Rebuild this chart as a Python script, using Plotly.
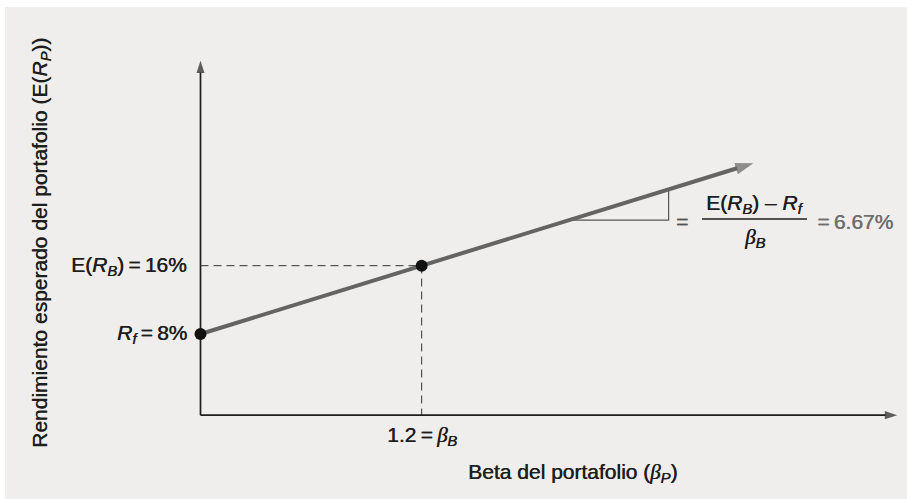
import plotly.graph_objects as go

# ---- Security market line inputs -------------------------------------------
RF = 8.0                 # risk-free rate (%)
BETA_B = 1.2             # beta of portfolio B
RET_B = 16.0             # expected return of portfolio B (%)
BETA_END = 3.0           # beta where the drawn line ends (arrow tip)
TRIANGLE_BETAS = [2.0, 2.54]   # legs of the slope triangle
SLOPE_TEXT = "6.67%"

# schematic axes extent
AXIS_BETA_MAX = 3.78
AXIS_RET_MIN = -1.5
AXIS_RET_MAX = 40.0

slope = (RET_B - RF) / BETA_B


def sml(b):
    return RF + slope * b


# ---- page geometry ---------------------------------------------------------
W, H = 907, 499
M_L, M_T = 5, 7                    # white strip around the grey panel
X0_PX, X_SCALE = 200.5, 184.3      # pixel of beta=0, pixels per unit beta
Y8_PX, Y_SCALE = 334.0, 8.54       # pixel of 8 %, pixels per percentage point

x_range = [(M_L - X0_PX) / X_SCALE, (W - X0_PX) / X_SCALE]
y_range = [RF - (H - Y8_PX) / Y_SCALE, RF + (Y8_PX - M_T) / Y_SCALE]


def paper(px, py):
    return (px - M_L) / (W - M_L), 1 - (py - M_T) / (H - M_T)


FONT = "Liberation Sans, Arial, Helvetica, sans-serif"
INK = "#1e1e1e"
LINE_GREY = "#646464"
PANEL = "#efeeec"
THIN = "\u2009"


def beta(sub):
    return ('<span style="font-family:Liberation Serif, Times New Roman, serif">'
            '<i>β</i></span><sub><i>' + sub + '</i></sub>')


fig = go.Figure()

# dashed guides to portfolio B
fig.add_trace(go.Scatter(
    x=[0, BETA_B, BETA_B], y=[RET_B, RET_B, AXIS_RET_MIN],
    mode="lines", line=dict(color="#333333", width=1, dash="8px,5px"),
    hoverinfo="skip", cliponaxis=False))

# slope triangle
tb0, tb1 = TRIANGLE_BETAS
fig.add_trace(go.Scatter(
    x=[tb0, tb1, tb1], y=[sml(tb0), sml(tb0), sml(tb1)],
    mode="lines", line=dict(color="#555555", width=1.2),
    hoverinfo="skip", cliponaxis=False))

# axes with arrow heads
axis_marker = dict(symbol=["circle", "arrow"], size=[0, 13], color=INK,
                   angleref="previous", line=dict(width=0))
fig.add_trace(go.Scatter(
    x=[0, 0], y=[AXIS_RET_MIN, AXIS_RET_MAX], mode="lines+markers",
    line=dict(color=INK, width=1.7), marker=axis_marker,
    hoverinfo="skip", cliponaxis=False))
fig.add_trace(go.Scatter(
    x=[0, AXIS_BETA_MAX], y=[AXIS_RET_MIN, AXIS_RET_MIN], mode="lines+markers",
    line=dict(color=INK, width=1.7), marker=axis_marker,
    hoverinfo="skip", cliponaxis=False))

# security market line
fig.add_trace(go.Scatter(
    x=[0, BETA_B, BETA_END], y=[RF, RET_B, sml(BETA_END)],
    mode="lines+markers",
    line=dict(color=LINE_GREY, width=4),
    marker=dict(symbol=["circle", "circle", "arrow"], size=[0, 0, 19],
                color=LINE_GREY, angleref="previous", line=dict(width=0)),
    hoverinfo="skip", cliponaxis=False))

# risk-free asset and portfolio B
fig.add_trace(go.Scatter(
    x=[0, BETA_B], y=[RF, RET_B], mode="markers",
    marker=dict(color="#111111", size=12),
    hoverinfo="skip", cliponaxis=False))

ann = []
FS = 21


def add_text(text, x, y, xref="x", yref="y", size=FS, color=INK,
             xanchor="center", yanchor="middle", **kw):
    ann.append(dict(text=text, x=x, y=y, xref=xref, yref=yref, showarrow=False,
                    xanchor=xanchor, yanchor=yanchor,
                    font=dict(family=FONT, size=size, color=color,
                              shadow="0.5px 0px 0px " + color), **kw))


def add_px_text(text, px, py, **kw):
    x, y = paper(px, py)
    add_text(text, x, y, xref="paper", yref="paper", **kw)


eq = THIN + "=" + THIN
add_text("E(<i>R</i><sub><i>B</i></sub>)" + eq + "16%", 0, RET_B,
         xanchor="right", xshift=-12)
add_text("<i>R</i><sub><i>f</i></sub>" + eq + "8%", 0, RF,
         xanchor="right", xshift=-12)
add_text("1.2" + eq + beta("B"), BETA_B, AXIS_RET_MIN, yshift=-21)

add_px_text("Beta del portafolio (" + beta("P") + ")", 572, 473)
add_px_text("Rendimiento esperado del portafolio (E(<i>R</i><sub><i>P</i></sub>))",
            41, 243, textangle=-90)

# slope expression
add_px_text("=", 682, 221, color="#555555")
add_px_text("E(<i>R</i><sub><i>B</i></sub>) – <i>R</i><sub><i>f</i></sub>",
            754, 204)
add_px_text(beta("B"), 754, 238)
add_px_text(eq + SLOPE_TEXT, 811, 221, color="#6e6e6e", xanchor="left")

bx0, by = paper(702, 219)
bx1, _ = paper(807, 219)

fig.update_layout(
    width=W, height=H,
    margin=dict(l=M_L, t=M_T, r=0, b=0, pad=0),
    paper_bgcolor="white", plot_bgcolor=PANEL,
    showlegend=False,
    xaxis=dict(range=x_range, visible=False, fixedrange=True),
    yaxis=dict(range=y_range, visible=False, fixedrange=True),
    annotations=ann,
    shapes=[dict(type="line", xref="paper", yref="paper",
                 x0=bx0, x1=bx1, y0=by, y1=by,
                 line=dict(color=INK, width=1.5))],
)

fig.write_html("out.html", config={"displayModeBar": False})
